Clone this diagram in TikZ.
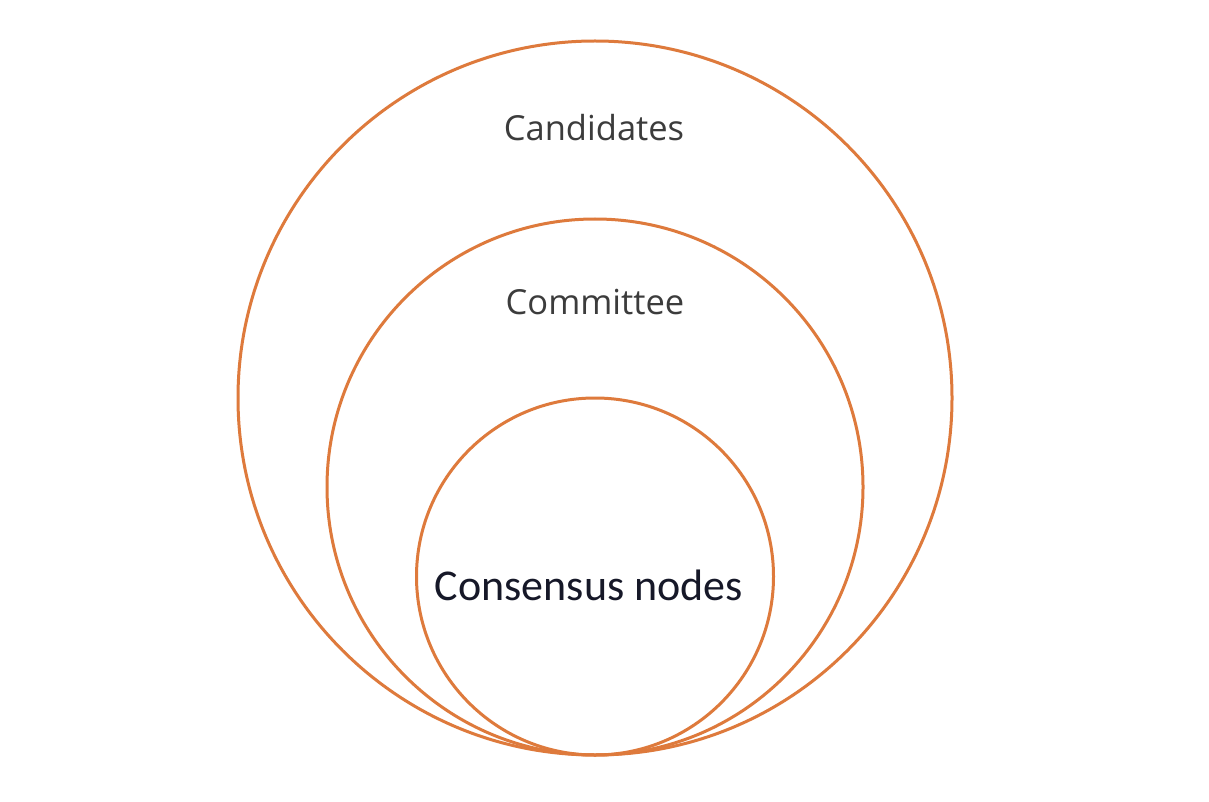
\documentclass[tikz,border=0pt]{standalone}
\usepackage{fontspec}
\setmainfont{Open Sans}
\newfontfamily\calib{Carlito}
\definecolor{ring}{RGB}{222,122,60}
\definecolor{greytxt}{RGB}{60,60,60}
\definecolor{navytxt}{RGB}{22,24,40}
\begin{document}
\begin{tikzpicture}[x=1pt,y=-1pt,
  ringline/.style={draw=ring,line width=3pt},
  lbl/.style={font=\fontsize{34.5}{40}\selectfont,text=greytxt,inner sep=0pt},
  lblbig/.style={font=\calib\fontsize{44}{50}\selectfont,text=navytxt,inner sep=0pt}]
\useasboundingbox (0,0) rectangle (1209,802);
\fill[white] (0,0) rectangle (1209,802);
\node[ringline,circle,minimum size=714pt,inner sep=0pt] (outer) at (595,398) {};
\node[ringline,circle,minimum size=536pt,inner sep=0pt] (middle) at (595,487) {};
\node[ringline,circle,minimum size=357pt,inner sep=0pt] (inner) at (595,576.5) {};
\node[lbl] (cand) at (594,128) {Candidates};
\node[lbl] (comm) at (595,302) {Committee};
\node[lblbig] (cons) at (589,585) {Consensus nodes};
\end{tikzpicture}
\end{document}
